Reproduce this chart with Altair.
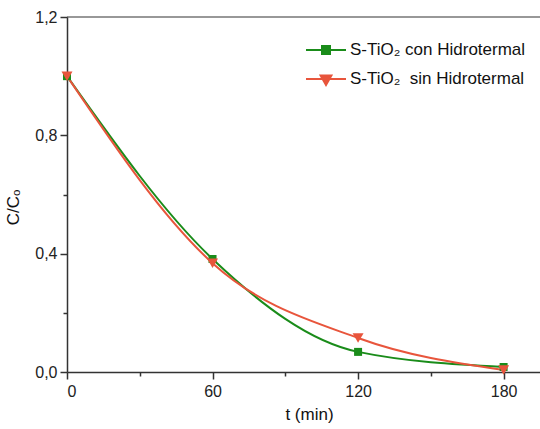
import altair as alt
import pandas as pd

# ---- data ----
series = ["S-TiO\u2082 con Hidrotermal", "S-TiO\u2082\u00a0 sin Hidrotermal"]
colors = ["#1a8c1a", "#e8553c"]
t_min = [0, 60, 120, 180]
con_hidrotermal = [1.0, 0.382, 0.068, 0.017]
sin_hidrotermal = [1.0, 0.368, 0.115, 0.007]

x_ticks = [0, 30, 60, 90, 120, 150, 180]
y_ticks = [0.0, 0.2, 0.4, 0.6, 0.8, 1.0, 1.2]

rows = []
for s, vals in zip(series, [con_hidrotermal, sin_hidrotermal]):
    for t, v in zip(t_min, vals):
        rows.append({"serie": s, "t": t, "c": v})
df = pd.DataFrame(rows)

FONT = "Liberation Sans"
AX = "#333333"

x_enc = alt.X(
    "t:Q",
    scale=alt.Scale(domain=[0, 195], nice=False, zero=False),
    axis=alt.Axis(
        values=x_ticks,
        labelExpr="datum.value % 60 === 0 ? datum.label : ''",
        tickSize={"condition": {"test": "datum.value % 60 === 0", "value": 7}, "value": 4},
        title="t (min)",
        grid=False,
        labelPadding=4,
        titlePadding=7,
        titleX=242,
    ),
)
y_enc = alt.Y(
    "c:Q",
    scale=alt.Scale(domain=[0, 1.2], nice=False),
    axis=alt.Axis(
        values=y_ticks,
        labelExpr="(round(datum.value*10) % 4 === 0) ? replace(format(datum.value, '.1f'), '.', ',') : ''",
        tickSize={"condition": {"test": "round(datum.value*10) % 4 === 0", "value": 7}, "value": 4},
        title="C/C\u2092",
        grid=False,
        labelPadding=3,
        titlePadding=12,
        titleY=190,
    ),
)

color_plain = alt.Color("serie:N", scale=alt.Scale(domain=series, range=colors), legend=None)

base = alt.Chart(df)

lines = base.mark_line(interpolate="monotone", strokeWidth=2).encode(
    x=x_enc, y=y_enc, color=color_plain
)
points = base.mark_point(filled=True, opacity=1).encode(
    x=x_enc,
    y=y_enc,
    color=color_plain,
    shape=alt.Shape(
        "serie:N",
        scale=alt.Scale(domain=series, range=["square", "triangle-down"]),
        legend=None,
    ),
    size=alt.Size("serie:N", scale=alt.Scale(domain=series, range=[64, 120]), legend=None),
)

sq_path = "M-1,0H1M-0.2,-0.2H0.2V0.2H-0.2Z"
tri_path = "M-1,0H1M-0.27,-0.18L0.27,-0.18L0,0.3Z"
leg = dict(
    title=None,
    orient="none",
    legendX=238,
    legendY=12,
    labelFont=FONT,
    labelFontSize=17,
    labelColor="#111111",
    labelLimit=0,
    symbolSize=1600,
    symbolStrokeWidth=2,
    symbolOpacity=1,
    labelOffset=3,
    rowPadding=-4,
)
legend_layer = base.mark_point(opacity=0, strokeWidth=2).encode(
    x=x_enc,
    y=y_enc,
    fill=alt.Fill("serie:N", scale=alt.Scale(domain=series, range=colors), legend=alt.Legend(**leg)),
    stroke=alt.Stroke("serie:N", scale=alt.Scale(domain=series, range=colors), legend=alt.Legend(**leg)),
    shape=alt.Shape("serie:N", scale=alt.Scale(domain=series, range=[sq_path, tri_path]), legend=alt.Legend(**leg)),
)

top_rule = alt.Chart(pd.DataFrame({"c": [1.2]})).mark_rule(color=AX, strokeWidth=1.2).encode(
    y=alt.Y("c:Q", scale=alt.Scale(domain=[0, 1.2], nice=False))
)

chart = (
    alt.layer(top_rule, lines, points, legend_layer)
    .resolve_scale(color="independent", shape="independent", size="independent",
                   fill="independent", stroke="independent")
    .properties(
        width=473,
        height=355,
        autosize="none",
        padding={"left": 67, "top": 17, "right": 0, "bottom": 57},
        background="white",
    )
    .configure_view(stroke=None)
    .configure_axis(
        domainColor=AX,
        domainWidth=1.5,
        tickColor=AX,
        tickWidth=1.5,
        labelFont=FONT,
        labelFontSize=16,
        labelColor="#222222",
        titleFont=FONT,
        titleFontSize=17,
        titleFontWeight="normal",
        titleColor="#111111",
    )
)

chart.save("out.html", embed_options={"renderer": "svg", "actions": False})
